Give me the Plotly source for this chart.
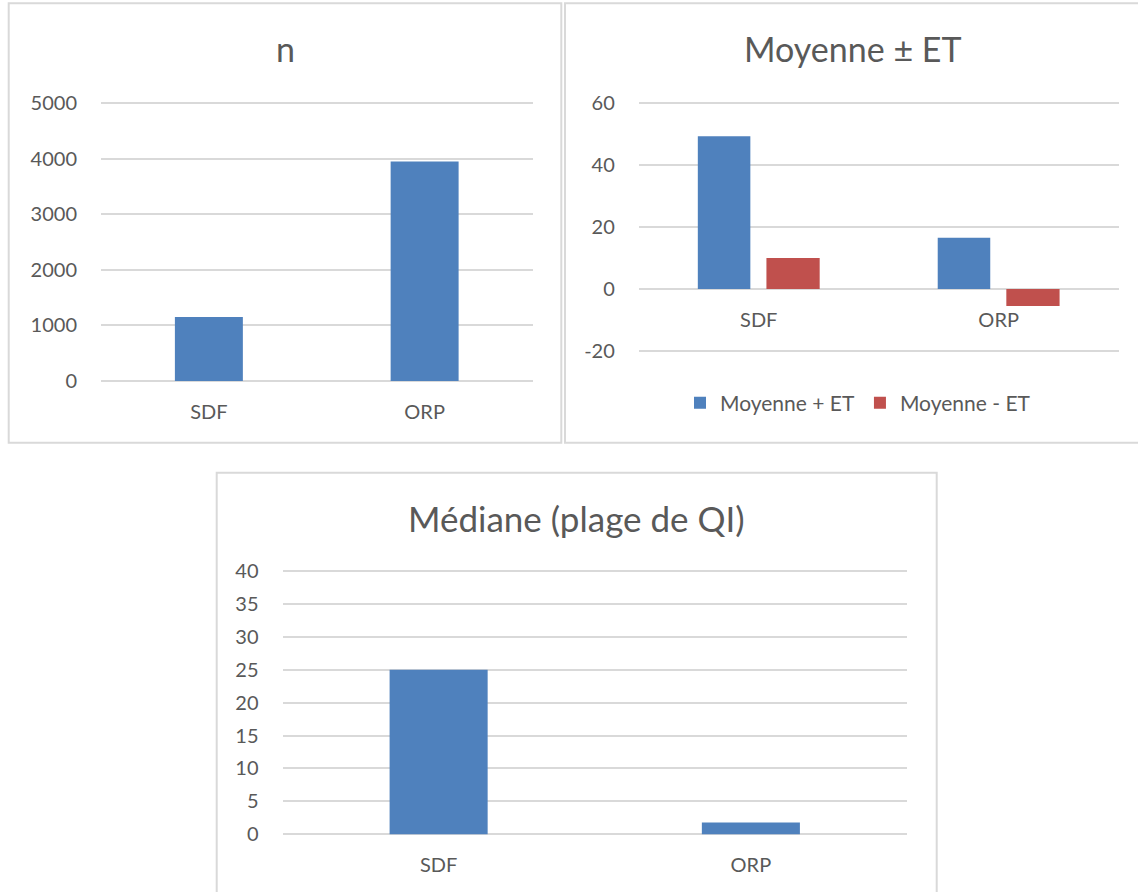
import plotly.graph_objects as go

W, H = 1138, 892

categories = ["SDF", "ORP"]
n_values = [1150, 3950]
moy_plus_et = [49.3, 16.5]
moy_minus_et = [10.0, -5.5]
mediane = [25, 1.8]

titles = ["n", "Moyenne ± ET", "Médiane (plage de QI)"]
legend_names = ["Moyenne + ET", "Moyenne - ET"]

n_ticks = [0, 1000, 2000, 3000, 4000, 5000]
moy_ticks = [-20, 0, 20, 40, 60]
moy_ticktext = ["-20", "0", "20", "40", "60"]
med_ticks = [0, 5, 10, 15, 20, 25, 30, 35, 40]

BLUE = "#4F81BD"
RED = "#C0504D"
TXT = "#595959"
GRID = "#D9D9D9"
FONT = "Lato"

def px(x):
    return x / W

def py(y):
    return 1 - y / H

def yframe(vlo, plo, vhi, phi, pad=5):
    """Axis domain/range such that value vlo sits at pixel row plo and vhi at phi,
    with a small pad so the end gridlines are drawn."""
    upp = (vhi - vlo) / (plo - phi)
    dom = [py(plo + pad), py(phi - pad)]
    rng = [vlo - pad * upp, vhi + pad * upp]
    return dom, rng

fig = go.Figure()

fig.add_trace(go.Bar(x=categories, y=n_values, marker_color=BLUE, width=0.315,
                     xaxis="x", yaxis="y", showlegend=False))
fig.add_trace(go.Bar(x=categories, y=moy_plus_et, name=legend_names[0], marker_color=BLUE,
                     width=0.219, offset=-0.254, xaxis="x2", yaxis="y2"))
fig.add_trace(go.Bar(x=categories, y=moy_minus_et, name=legend_names[1], marker_color=RED,
                     width=0.222, offset=0.032, xaxis="x2", yaxis="y2"))
fig.add_trace(go.Bar(x=categories, y=mediane, marker_color=BLUE, width=0.314,
                     xaxis="x3", yaxis="y3", showlegend=False))

def xax(domain, anchor, position=None, standoff=12):
    d = dict(domain=domain, showgrid=False, showline=False, zeroline=False,
             tickfont=dict(family=FONT, size=20, color=TXT), ticks="",
             ticklabelstandoff=standoff, fixedrange=True, automargin=False)
    if position is not None:
        d.update(anchor="free", position=position)
    else:
        d.update(anchor=anchor)
    return d

def yax(frame, anchor, tickvals, ticktext=None, fsize=20):
    dom, rng = frame
    d = dict(domain=dom, anchor=anchor, range=rng, tickmode="array", tickvals=tickvals,
             showgrid=True, gridcolor=GRID, gridwidth=2, zeroline=False,
             showline=False, ticks="", ticklabelstandoff=23, automargin=False,
             tickfont=dict(family=FONT, size=fsize, color=TXT), fixedrange=True)
    if ticktext is not None:
        d["ticktext"] = ticktext
    return d

f1 = yframe(0, 381, 5000, 103)
f2 = yframe(-20, 351, 60, 103)
f3 = yframe(0, 834.3, 40, 571)

# position of the y=0 line of panel 2 (category labels sit under it)
zero2 = f2[0][0] + (0 - f2[1][0]) / (f2[1][1] - f2[1][0]) * (f2[0][1] - f2[0][0])

fig.update_layout(
    template="none",
    width=W, height=H,
    margin=dict(l=0, r=0, t=0, b=0, pad=0, autoexpand=False),
    paper_bgcolor="white", plot_bgcolor="white",
    barmode="group",
    xaxis=xax([px(101), px(532.5)], "y"),
    yaxis=yax(f1, "x", n_ticks),
    xaxis2=xax([px(638.8), px(1118.6)], "y2", position=zero2, standoff=17),
    yaxis2=yax(f2, "x2", moy_ticks, moy_ticktext),
    xaxis3=xax([px(282.5), px(907)], "y3"),
    yaxis3=yax(f3, "x3", med_ticks),
    legend=dict(orientation="h", x=px(858), y=py(403), xanchor="center", yanchor="middle",
                font=dict(family=FONT, size=21, color=TXT), bgcolor="rgba(0,0,0,0)"),
    font=dict(family=FONT, color=TXT),
)

# panel borders
for (x0, y0, x1, y1) in [(8.7, 3.3, 561.3, 442.7), (565, 3.3, 1145, 442.7), (216.7, 472.7, 936.7, 900)]:
    fig.add_shape(type="rect", xref="paper", yref="paper",
                  x0=px(x0), x1=px(x1), y0=py(y1), y1=py(y0),
                  line=dict(color=GRID, width=2), fillcolor="rgba(0,0,0,0)", layer="below")

# titles
for text, cx, cy, fs in [(titles[0], 285, 49, 34), (titles[1], 853, 48, 34), (titles[2], 577, 518, 35)]:
    fig.add_annotation(text=text, xref="paper", yref="paper", x=px(cx), y=py(cy),
                       xanchor="center", yanchor="middle", showarrow=False,
                       font=dict(family=FONT, size=fs, color=TXT))

fig.write_html("out.html", config={"displayModeBar": False},
               post_script="document.body.style.margin='0';document.body.style.overflow='hidden';")
